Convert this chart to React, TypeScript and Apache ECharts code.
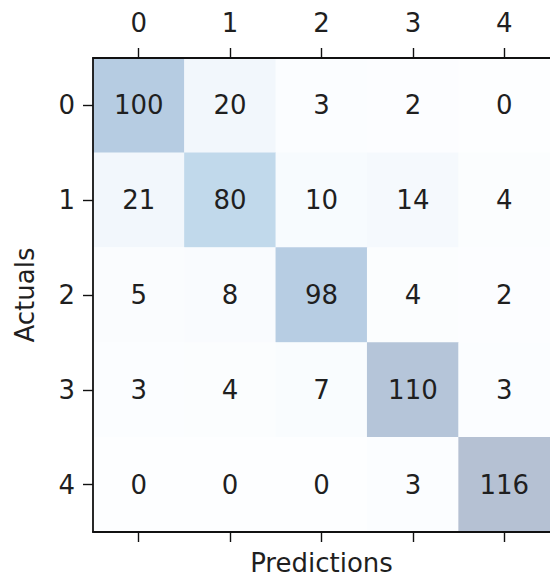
import React, { useEffect, useRef } from "react";
import * as echarts from "echarts";

// Class labels shared by both axes
const predictedLabels = ["0", "1", "2", "3", "4"];
const actualLabels = ["0", "1", "2", "3", "4"];

// Confusion-matrix counts, one array per actual class (columns = predicted class)
const actualRow0 = [100, 20, 3, 2, 0];
const actualRow1 = [21, 80, 10, 14, 4];
const actualRow2 = [5, 8, 98, 4, 2];
const actualRow3 = [3, 4, 7, 110, 3];
const actualRow4 = [0, 0, 0, 3, 116];
const matrixRows = [actualRow0, actualRow1, actualRow2, actualRow3, actualRow4];

// "Blues" colour ramp, drawn at 30% opacity over white
const bluesStops = [
  "#f7fbff", "#deebf7", "#c6dbef", "#9ecae1", "#6baed6",
  "#4292c6", "#2171b5", "#08519c", "#08306b",
];
const cellAlpha = 0.3;

function blendOverWhite(hex: string, a: number): string {
  const r = parseInt(hex.slice(1, 3), 16);
  const g = parseInt(hex.slice(3, 5), 16);
  const b = parseInt(hex.slice(5, 7), 16);
  const mix = (c: number) => Math.round(a * c + (1 - a) * 255);
  return `rgb(${mix(r)},${mix(g)},${mix(b)})`;
}

const FONT = "DejaVu Sans";
const FONT_SIZE = 26;
const TEXT = "#1f1f1f";
const LINE = "#111111";

export default function App() {
  const ref = useRef<HTMLDivElement>(null);

  useEffect(() => {
    if (!ref.current) return;
    const chart = echarts.init(ref.current, undefined, { renderer: "svg" });

    const cells: [number, number, number][] = [];
    matrixRows.forEach((row, r) =>
      row.forEach((v, c) => cells.push([c, r, v]))
    );
    const maxVal = Math.max(...cells.map((d) => d[2]));

    const tickStyle = { show: true, alignWithLabel: true, length: 10, lineStyle: { color: LINE, width: 1.4 } };
    const lineStyle = { show: true, lineStyle: { color: LINE, width: 1.8 } };

    chart.setOption({
      animation: false,
      backgroundColor: "#ffffff",
      grid: { left: 93, top: 58, width: 465.5, height: 474 },
      xAxis: [
        {
          type: "category",
          data: predictedLabels,
          position: "top",
          z: 10,
          axisLine: lineStyle,
          axisTick: tickStyle,
          axisLabel: { color: TEXT, fontSize: FONT_SIZE, fontFamily: FONT, margin: 22 },
          splitLine: { show: false },
        },
        {
          type: "category",
          data: predictedLabels,
          position: "bottom",
          z: 10,
          axisLine: lineStyle,
          axisTick: tickStyle,
          axisLabel: { show: false },
          splitLine: { show: false },
          name: "Predictions",
          nameLocation: "middle",
          nameGap: 18,
          nameTextStyle: { color: TEXT, fontSize: FONT_SIZE, fontFamily: FONT },
        },
      ],
      yAxis: {
        type: "category",
        data: actualLabels,
        inverse: true,
        z: 10,
        axisLine: lineStyle,
        axisTick: tickStyle,
        axisLabel: { color: TEXT, fontSize: FONT_SIZE, fontFamily: FONT, margin: 18 },
        splitLine: { show: false },
        name: "Actuals",
        nameLocation: "middle",
        nameGap: 55,
        nameTextStyle: { color: TEXT, fontSize: FONT_SIZE, fontFamily: FONT },
      },
      visualMap: {
        show: false,
        type: "continuous",
        min: 0,
        max: maxVal,
        dimension: 2,
        inRange: { color: bluesStops.map((c) => blendOverWhite(c, cellAlpha)) },
      },
      series: [
        {
          type: "heatmap",
          xAxisIndex: 0,
          data: cells,
          label: {
            show: true,
            formatter: (p: any) => String(p.value[2]),
            color: TEXT,
            fontSize: FONT_SIZE,
            fontFamily: FONT,
          },
          itemStyle: { borderWidth: 0 },
          emphasis: { disabled: true },
        },
      ],
    });

    return () => chart.dispose();
  }, []);

  return (
    <div
      ref={ref}
      style={{ position: "fixed", left: 0, top: 0, width: 550, height: 581 }}
    />
  );
}
